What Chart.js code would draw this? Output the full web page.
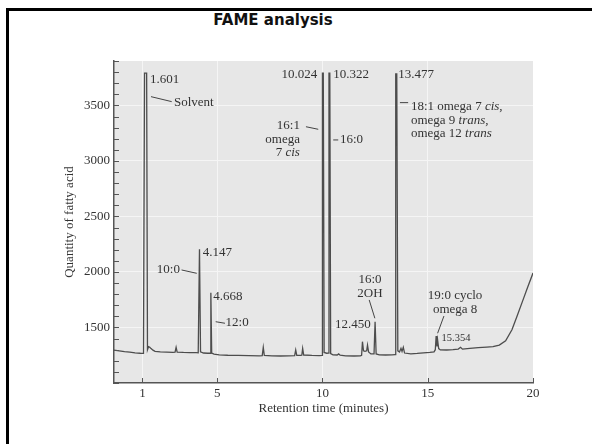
<!DOCTYPE html>
<html>
<head>
<meta charset="utf-8">
<script src="https://cdn.jsdelivr.net/npm/chart.js@4.4.1/dist/chart.umd.min.js"></script>
<style>
  html, body { margin: 0; padding: 0; background: #fff; }
  body { width: 592px; height: 444px; position: relative; overflow: hidden; }
  #frame { position: absolute; left: 6px; top: 8px; width: 700px; height: 600px;
           border-left: 3px solid #000; border-top: 3px solid #000; }
  #title { position: absolute; left: 173px; width: 200px; top: 11px; text-align: center;
           font: bold 15px "DejaVu Sans", sans-serif; color: #111; }
  #wrap { position: absolute; left: 0; top: 0; width: 592px; height: 444px; }
</style>
</head>
<body>
<div id="frame"></div>
<div id="title">FAME analysis</div>
<div id="wrap"><canvas id="fame"></canvas></div>
<script>
// chromatogram trace (minutes / quantity)
const retentionTime = [
  0.10, 0.35, 0.60, 0.85, 1.10, 1.35, 1.50, 1.55, 1.65, 1.69, 1.74, 1.80, 1.86, 1.95, 2.05,
  2.30, 2.60, 2.90, 3.00, 3.05, 3.10, 3.40, 3.70, 4.00, 4.10, 4.16, 4.21, 4.35, 4.55, 4.66,
  4.70, 4.74, 4.85, 5.10, 5.50, 6.00, 6.50, 7.00, 7.14, 7.19, 7.24, 7.60, 8.00, 8.40, 8.68,
  8.73, 8.78, 8.95, 9.02, 9.06, 9.11, 9.50, 9.85, 9.98, 10.00, 10.04, 10.08, 10.20, 10.29, 10.31,
  10.35, 10.39, 10.50, 10.70, 10.77, 10.84, 11.10, 11.50, 11.80, 11.86, 11.90, 11.95, 12.02, 12.10, 12.14,
  12.19, 12.30, 12.45, 12.50, 12.55, 12.70, 13.00, 13.30, 13.45, 13.48, 13.53, 13.58, 13.66, 13.73, 13.78,
  13.84, 13.90, 14.20, 14.50, 14.80, 15.10, 15.30, 15.36, 15.40, 15.44, 15.47, 15.52, 15.60, 15.90, 16.20,
  16.45, 16.56, 16.65, 17.00, 17.40, 17.80, 18.10, 18.40, 18.70, 19.00, 19.25, 19.50, 19.75, 20.00
];
const quantity = [
  1297, 1290, 1282, 1278, 1272, 1268, 1267, 3790, 3790, 1300, 1327, 1322, 1310, 1296, 1285,
  1280, 1278, 1276, 1277, 1321, 1278, 1275, 1274, 1273, 1272, 2205, 1280, 1270, 1268, 1268,
  1812, 1270, 1260, 1254, 1250, 1248, 1246, 1245, 1247, 1321, 1248, 1244, 1243, 1244, 1246,
  1297, 1248, 1248, 1250, 1312, 1252, 1248, 1246, 1248, 3790, 3790, 1275, 1268, 1270, 3790,
  3790, 1265, 1254, 1252, 1262, 1250, 1245, 1243, 1245, 1250, 1372, 1290, 1285, 1290, 1342,
  1280, 1262, 1262, 1552, 1262, 1254, 1252, 1253, 1255, 3783, 3783, 1290, 1280, 1312, 1285,
  1321, 1270, 1262, 1266, 1272, 1276, 1280, 1300, 1423, 1330, 1387, 1310, 1298, 1297, 1300,
  1305, 1321, 1305, 1312, 1318, 1324, 1328, 1342, 1380, 1480, 1605, 1735, 1865, 1990
];

const yTickLabels = [1500, 2000, 2500, 3000, 3500];
const xTickValues = [1.45, 5, 10, 15, 20];
const xTickLabels = ['1', '5', '10', '15', '20'];

// peak annotations (data coordinates)
const notes = [
  { lines: ['1.601'], x: 1.81, y: 3735, align: 'left' },
  { lines: ['Solvent'], x: 2.95, y: 3528, align: 'left' },
  { lines: ['10.024'], x: 9.75, y: 3774, align: 'right' },
  { lines: ['10.322'], x: 10.51, y: 3774, align: 'left' },
  { lines: ['13.477'], x: 13.60, y: 3774, align: 'left' },
  { lines: ['16:1', 'omega', [['7 ', 0], ['cis', 1]]], x: 8.93, y: 3315, align: 'right' },
  { lines: ['16:0'], x: 10.83, y: 3189, align: 'left' },
  { lines: [[['18:1 omega 7 ', 0], ['cis', 1], [',', 0]],
            [['omega 9 ', 0], ['trans', 1], [',', 0]],
            [['omega 12 ', 0], ['trans', 1]]], x: 14.2, y: 3488, align: 'left' },
  { lines: ['10:0'], x: 3.23, y: 2018, align: 'right' },
  { lines: ['4.147'], x: 4.31, y: 2174, align: 'left' },
  { lines: ['4.668'], x: 4.815, y: 1777, align: 'left' },
  { lines: ['12:0'], x: 5.40, y: 1543, align: 'left' },
  { lines: ['16:0', '2OH'], x: 12.256, y: 1928, align: 'center' },
  { lines: ['12.450'], x: 12.30, y: 1529, align: 'right' },
  { lines: ['19:0 cyclo', 'omega 8'], x: 16.3, y: 1784, align: 'center' },
  { lines: ['15.354'], x: 15.66, y: 1403, align: 'left', size: 10.5 }
];
const leaders = [
  [1.857, 3579, 2.84, 3534],
  [9.217, 3308, 9.80, 3285],
  [10.513, 3189, 10.75, 3189],
  [13.68, 3525, 14.07, 3525],
  [3.31, 2018, 4.03, 1988],
  [4.93, 1552, 5.37, 1538],
  [12.22, 1748, 12.49, 1583],
  [15.77, 1603, 15.47, 1448]
];

const SERIF = '"Liberation Serif", "DejaVu Serif", serif';
const INK = '#333';

const plotBackground = {
  id: 'plotBackground',
  beforeDraw(chart) {
    const { ctx, chartArea: a } = chart;
    ctx.save();
    ctx.fillStyle = '#e7e7e7';
    ctx.fillRect(a.left, a.top, a.right - a.left, a.bottom - a.top);
    ctx.restore();
  }
};

// tick marks pointing into the plot
const innerTicks = {
  id: 'innerTicks',
  afterDatasetsDraw(chart) {
    const { ctx, chartArea: a, scales } = chart;
    ctx.save();
    ctx.strokeStyle = '#555';
    ctx.lineWidth = 1;
    scales.y.ticks.forEach(t => {
      const y = Math.round(scales.y.getPixelForValue(t.value)) + 0.5;
      ctx.beginPath(); ctx.moveTo(a.left, y); ctx.lineTo(a.left + 5, y); ctx.stroke();
    });
    scales.x.ticks.forEach(t => {
      const x = Math.round(scales.x.getPixelForValue(t.value)) + 0.5;
      ctx.beginPath(); ctx.moveTo(x, a.bottom); ctx.lineTo(x, a.bottom - 5); ctx.stroke();
    });
    ctx.restore();
  }
};

function drawRich(ctx, line, x, y, align, size) {
  const segs = typeof line === 'string' ? [[line, 0]] : line;
  const fontOf = it => (it ? 'italic ' : '') + size + 'px ' + SERIF;
  let total = 0;
  segs.forEach(s => { ctx.font = fontOf(s[1]); total += ctx.measureText(s[0]).width; });
  let cx = align === 'right' ? x - total : align === 'center' ? x - total / 2 : x;
  segs.forEach(s => {
    ctx.font = fontOf(s[1]);
    ctx.fillText(s[0], cx, y);
    cx += ctx.measureText(s[0]).width;
  });
}

const peakNotes = {
  id: 'peakNotes',
  afterDatasetsDraw(chart) {
    const { ctx, scales: { x: sx, y: sy } } = chart;
    ctx.save();
    ctx.strokeStyle = '#444';
    ctx.lineWidth = 1;
    leaders.forEach(l => {
      ctx.beginPath();
      ctx.moveTo(sx.getPixelForValue(l[0]), sy.getPixelForValue(l[1]));
      ctx.lineTo(sx.getPixelForValue(l[2]), sy.getPixelForValue(l[3]));
      ctx.stroke();
    });
    ctx.fillStyle = INK;
    ctx.textAlign = 'left';
    ctx.textBaseline = 'middle';
    notes.forEach(n => {
      const px = sx.getPixelForValue(n.x);
      const py = sy.getPixelForValue(n.y);
      n.lines.forEach((line, i) => drawRich(ctx, line, px, py + i * 13.5, n.align, n.size || 13));
    });
    ctx.restore();
  }
};

new Chart(document.getElementById('fame'), {
  type: 'line',
  data: {
    datasets: [{
      data: retentionTime.map((t, i) => ({ x: t, y: quantity[i] })),
      borderColor: '#4d4d4d',
      borderWidth: 1.3,
      pointRadius: 0,
      tension: 0,
      fill: false
    }]
  },
  options: {
    responsive: true,
    maintainAspectRatio: false,
    animation: false,
    layout: { padding: { left: 0, right: 59, top: 61, bottom: 0 } },
    plugins: { legend: { display: false }, tooltip: { enabled: false } },
    scales: {
      x: {
        type: 'linear',
        min: 0.1,
        max: 20,
        afterBuildTicks: s => { s.ticks = xTickValues.map(v => ({ value: v })); },
        afterFit: s => { s.height = 61; },
        ticks: {
          autoSkip: false, maxRotation: 0, padding: 3,
          callback: (v, i) => xTickLabels[i],
          color: INK, font: { family: SERIF, size: 13 }
        },
        grid: {
          drawTicks: false,
          color: c => (c.tick && c.tick.value < 20) ? '#f5f5f5' : 'rgba(0,0,0,0)'
        },
        border: { display: true, color: '#555', width: 1.5 },
        title: {
          display: true, text: 'Retention time (minutes)', color: INK,
          font: { family: SERIF, size: 13 }, padding: { top: 0, bottom: 28 }
        }
      },
      y: {
        min: 1000,
        max: 3900,
        afterFit: s => { s.width = 114; },
        ticks: {
          stepSize: 100, autoSkip: false, padding: 4,
          callback: v => yTickLabels.includes(v) ? String(v) : '',
          color: INK, font: { family: SERIF, size: 13 }
        },
        grid: {
          drawTicks: false,
          color: c => (c.tick && yTickLabels.includes(c.tick.value)) ? '#f5f5f5' : 'rgba(0,0,0,0)'
        },
        border: { display: true, color: '#555', width: 1.5 },
        title: {
          display: true, text: 'Quantity of fatty acid', color: INK,
          font: { family: SERIF, size: 13 }, padding: { top: 62, bottom: 0 }
        }
      }
    }
  },
  plugins: [plotBackground, innerTicks, peakNotes]
});
</script>
</body>
</html>
